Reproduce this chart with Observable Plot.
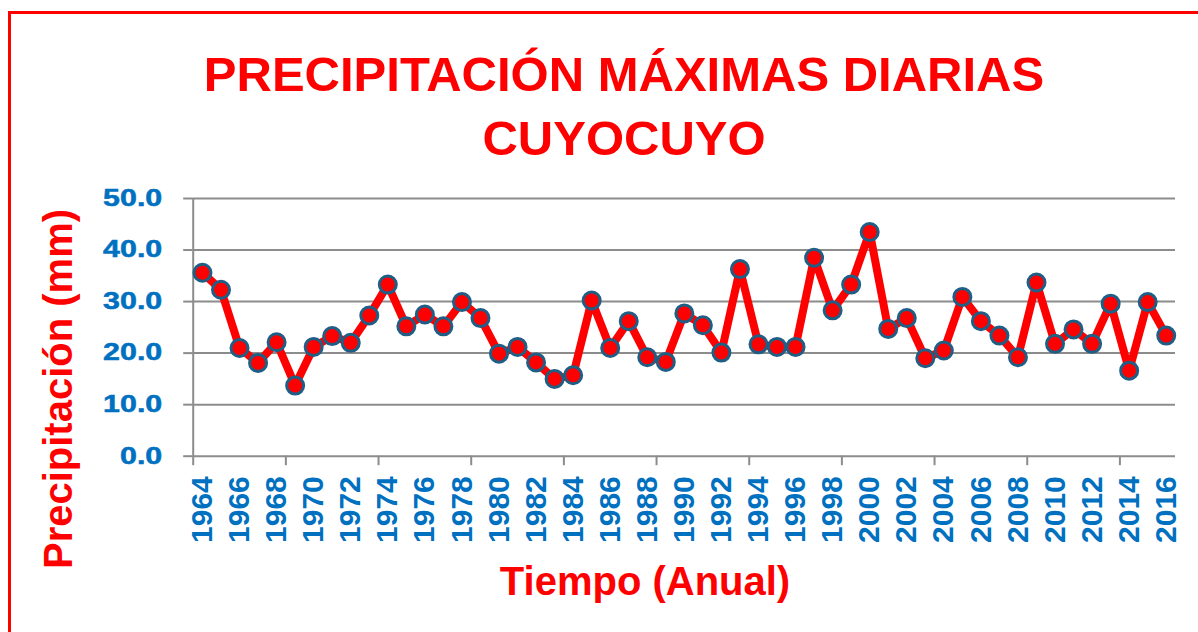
<!DOCTYPE html>
<html>
<head>
<meta charset="utf-8">
<script src="https://cdn.jsdelivr.net/npm/d3@7"></script>
<script src="https://cdn.jsdelivr.net/npm/@observablehq/plot@0.6"></script>
<style>
  html, body { margin: 0; padding: 0; overflow: hidden; background: #fff; }
  #wrap { position: relative; width: 1198px; height: 632px; overflow: hidden; background: #fff; }
  #frame { position: absolute; left: 8px; top: 11px; width: 1400px; height: 900px; border: 3px solid #ff0000; box-sizing: border-box; z-index: 3; pointer-events: none; }
  #chart { position: absolute; left: 0; top: 0; z-index: 1; }
  .t { position: absolute; font-family: "Liberation Sans", Arial, sans-serif; font-weight: bold; color: #ff0000; white-space: nowrap; z-index: 2; }
  #title { left: 0; width: 1248px; top: 42px; font-size: 49px; line-height: 64px; text-align: center; }
  #xtitle { left: 645px; top: 561px; font-size: 40px; line-height: 40px; transform: translateX(-50%); }
  #ytitle { left: 57.6px; top: 389px; font-size: 40px; line-height: 40px; transform: translate(-50%, -50%) rotate(-90deg); }
</style>
</head>
<body>
<div id="wrap">
  <div id="chart"></div>
  <div id="frame"></div>
  <div class="t" id="title">PRECIPITACIÓN MÁXIMAS DIARIAS<br>CUYOCUYO</div>
  <div class="t" id="ytitle">Precipitación (mm)</div>
  <div class="t" id="xtitle">Tiempo (Anual)</div>
</div>
<script>
const years = [1964,1965,1966,1967,1968,1969,1970,1971,1972,1973,1974,1975,1976,1977,1978,1979,
  1980,1981,1982,1983,1984,1985,1986,1987,1988,1989,1990,1991,1992,1993,1994,1995,1996,1997,1998,1999,
  2000,2001,2002,2003,2004,2005,2006,2007,2008,2009,2010,2011,2012,2013,2014,2015,2016];
const precip = [35.6,32.3,21.0,18.1,22.1,13.7,21.2,23.3,22.0,27.3,33.3,25.2,27.5,25.2,29.9,26.8,
  19.9,21.2,18.2,15.0,15.7,30.2,21.0,26.2,19.2,18.3,27.7,25.4,20.1,36.3,21.7,21.2,21.2,38.5,28.3,33.3,
  43.5,24.7,26.8,19.0,20.5,30.9,26.2,23.4,19.2,33.7,21.8,24.6,21.8,29.6,16.6,29.9,23.4];
const yTicks = [0,10,20,30,40,50];
const xLabelYears = [1964,1966,1968,1970,1972,1974,1976,1978,1980,1982,1984,1986,1988,1990,
  1992,1994,1996,1998,2000,2002,2004,2006,2008,2010,2012,2014,2016];
const xTickMarks = [1963.5,1968.5,1973.5,1978.5,1983.5,1988.5,1993.5,1998.5,2003.5,2008.5,2013.5];
const xDomain = [1963.5, 2016.5];
const yDomain = [0, 50];

const data = years.map((y, i) => ({year: y, value: precip[i]}));

const gray = "#8c8c8c";
const blue = "#0070c0";

const chart = Plot.plot({
  width: 1198,
  height: 632,
  marginLeft: 192.7,
  marginRight: 23,
  marginTop: 198,
  marginBottom: 176.3,
  style: {background: "transparent", overflow: "visible"},
  x: {domain: xDomain},
  y: {domain: yDomain},
  marks: [
    Plot.gridY(yTicks, {stroke: gray, strokeOpacity: 1, strokeWidth: 2}),
    Plot.ruleX([xDomain[0]], {stroke: gray, strokeWidth: 2}),
    Plot.axisY(yTicks, {
      tickSize: 9.5, tickPadding: 21.5, tickFormat: d3.format(".1f"),
      stroke: gray, strokeWidth: 2, fill: blue,
      fontSize: 23, fontWeight: "bold", fontFamily: "Liberation Sans, Arial, sans-serif", label: null
    }),
    Plot.axisX(xTickMarks, {
      tickSize: 9.5, tickFormat: () => "", stroke: gray, strokeWidth: 2, label: null
    }),
    Plot.axisX(xLabelYears, {
      tickSize: 0, tickRotate: -90, tickPadding: 20, tickFormat: d => String(d),
      fill: blue, fontSize: 30, fontWeight: "bold", fontFamily: "Liberation Sans, Arial, sans-serif", label: null
    }),
    Plot.line(data, {x: "year", y: "value", stroke: "#ff0000", strokeWidth: 8, strokeLinejoin: "round", strokeLinecap: "round"}),
    Plot.dot(data, {x: "year", y: "value", r: 8.5, fill: "#ff0000", stroke: "#1f5e85", strokeWidth: 3})
  ]
});
// widen and thicken the y tick labels, as in the reference
d3.select(chart).selectAll('g[aria-label="y-axis tick label"] text').each(function() {
  const t = this.getAttribute("transform") || "";
  this.setAttribute("transform", t + " scale(1.32,1)");
  this.setAttribute("stroke", blue);
  this.setAttribute("stroke-width", "0.5");
});
document.getElementById("chart").appendChild(chart);
</script>
</body>
</html>
